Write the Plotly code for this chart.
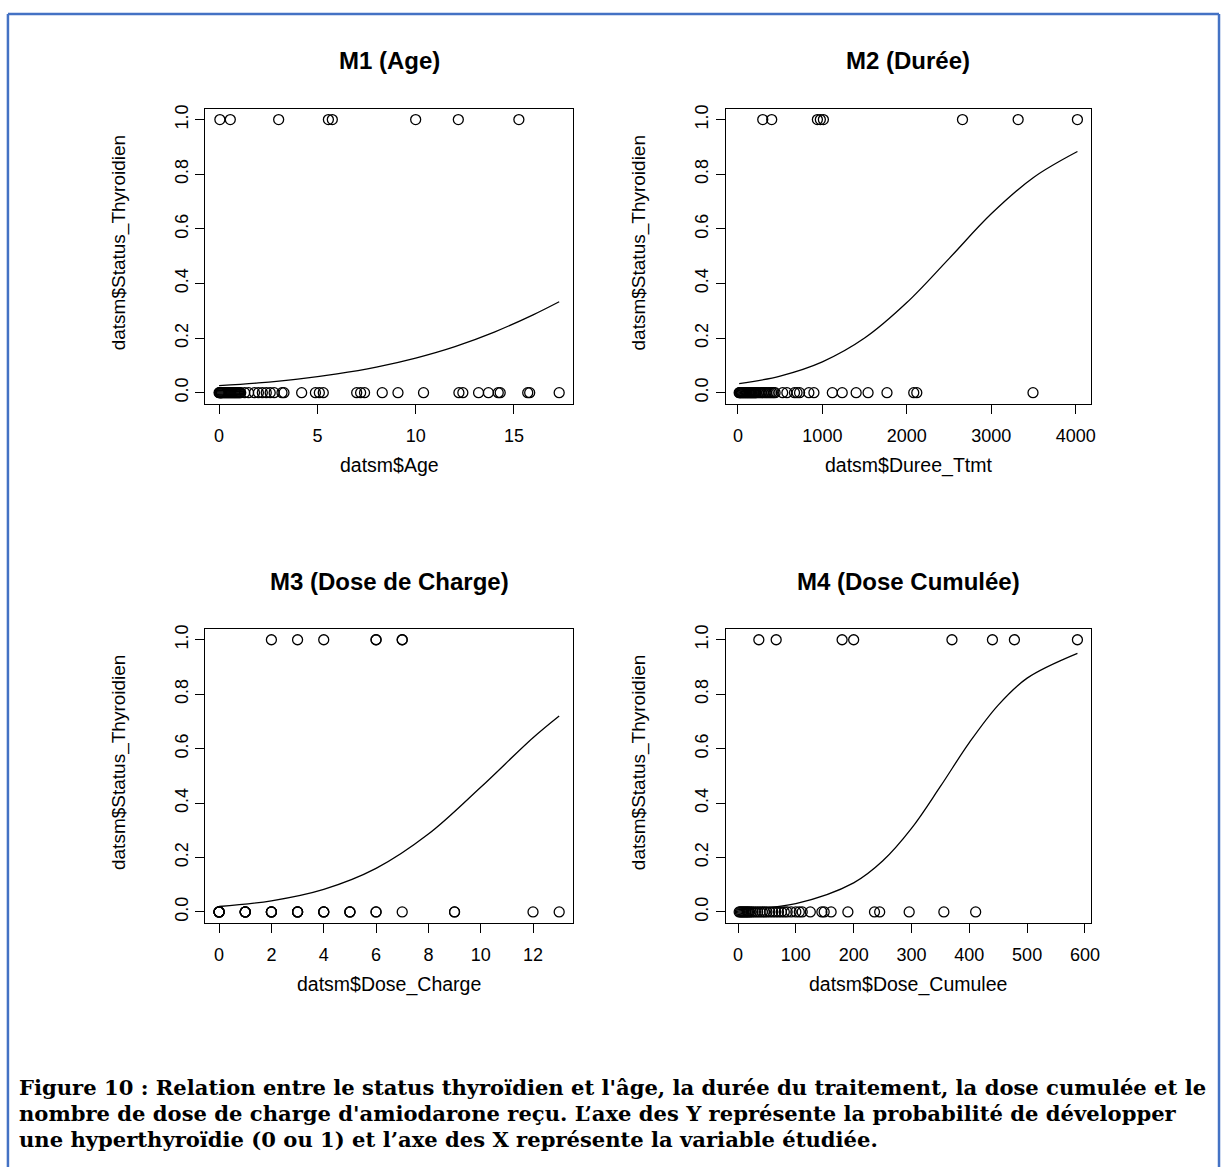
import plotly.graph_objects as go

W, H = 1230, 1167

# ---------------- data ----------------
# M1 : Age
age_status1 = [0.04, 0.57, 3.03, 5.56, 5.76, 10.0, 12.17, 15.25]
age_status0 = [0.0, 0.02, 0.05, 0.08, 0.1, 0.12, 0.15, 0.2, 0.25, 0.3, 0.35, 0.4,
               0.45, 0.5, 0.55, 0.6, 0.65, 0.7, 0.75, 0.8, 0.85, 0.9, 0.95, 1.0,
               1.05, 1.1, 1.3, 1.5, 1.8, 2.0, 2.2, 2.4, 2.6, 2.8, 3.2, 3.3, 4.2,
               4.9, 5.1, 5.3, 7.0, 7.2, 7.4, 8.3, 9.1, 10.4, 12.2, 12.4, 13.2,
               13.7, 14.2, 14.3, 15.7, 15.8, 17.3]
age_fit_x = [0, 2, 4, 6, 8, 10, 12, 14, 16, 17.3]
age_fit_p = [0.026, 0.036, 0.050, 0.069, 0.094, 0.127, 0.169, 0.222, 0.286, 0.333]

# M2 : Durée
dur_status1 = [294, 400, 941, 976, 1012, 2659, 3318, 4020]
dur_status0 = [15, 20, 30, 40, 50, 60, 70, 80, 90, 100, 110, 120, 130, 140, 150,
               160, 170, 180, 190, 200, 210, 220, 240, 260, 280, 300, 320, 340,
               360, 380, 400, 420, 440, 530, 580, 670, 700, 730, 840, 900, 1118,
               1235, 1400, 1541, 1765, 2082, 2118, 3494]
dur_fit_x = [15, 500, 1000, 1500, 2000, 2500, 3000, 3500, 4020]
dur_fit_p = [0.033, 0.061, 0.113, 0.200, 0.330, 0.491, 0.655, 0.788, 0.883]

# M3 : Dose de charge
charge_status1 = [2, 3, 4, 6, 6, 7, 7]
charge_status0 = [0, 0, 0, 0, 0, 0, 1, 1, 1, 1, 1, 2, 2, 2, 2, 3, 3, 3, 3, 4, 4, 4,
                  5, 5, 5, 6, 6, 7, 9, 9, 12, 13]
charge_fit_x = [0, 2, 4, 6, 8, 10, 12, 13]
charge_fit_p = [0.020, 0.041, 0.083, 0.160, 0.286, 0.458, 0.640, 0.720]

# M4 : Dose cumulée
cum_status1 = [36, 66, 180, 200, 370, 440, 478, 587]
cum_status0 = [2, 4, 6, 8, 10, 12, 14, 16, 18, 20, 23, 26, 30, 34, 38, 42, 46, 50,
               55, 60, 65, 70, 75, 80, 85, 92, 100, 106, 111, 125, 145, 149, 161,
               190, 236, 245, 296, 356, 411]
cum_fit_x = [2, 100, 200, 250, 300, 350, 400, 450, 500, 587]
cum_fit_p = [0.009, 0.031, 0.107, 0.187, 0.307, 0.461, 0.622, 0.760, 0.859, 0.950]

panel_titles = ["M1 (Age)", "M2 (Durée)", "M3 (Dose de Charge)", "M4 (Dose Cumulée)"]
x_titles = ["datsm$Age", "datsm$Duree_Ttmt", "datsm$Dose_Charge", "datsm$Dose_Cumulee"]
y_title = "datsm$Status_Thyroidien"
x_ticks = [[0, 5, 10, 15],
           [0, 1000, 2000, 3000, 4000],
           [0, 2, 4, 6, 8, 10, 12],
           [0, 100, 200, 300, 400, 500, 600]]
y_ticks = [0.0, 0.2, 0.4, 0.6, 0.8, 1.0]
y_tick_labels = ["0.0", "0.2", "0.4", "0.6", "0.8", "1.0"]

caption_lines = [
    "Figure 10 : Relation entre le status thyroïdien et l'âge, la durée du traitement, la dose cumulée et le",
    "nombre de dose de charge d'amiodarone reçu. L’axe des Y représente la probabilité de développer",
    "une hyperthyroïdie (0 ou 1) et l’axe des X représente la variable étudiée.",
]

panels = [
    (age_status0, age_status1, age_fit_x, age_fit_p),
    (dur_status0, dur_status1, dur_fit_x, dur_fit_p),
    (charge_status0, charge_status1, charge_fit_x, charge_fit_p),
    (cum_status0, cum_status1, cum_fit_x, cum_fit_p),
]

# ---------------- layout geometry (pixels) ----------------
col_px = [(207, 577), (731, 1099)]
row_px = [(105, 401), (627, 922)]   # top, bottom in screen pixels

def px_x(v):
    return v / W

def px_y(v):
    return 1 - v / H

fig = go.Figure()
font_main = "Liberation Sans, Arial, Helvetica, sans-serif"

for i, (s0, s1, fx, fp) in enumerate(panels):
    r, c = divmod(i, 2)
    n = i + 1
    xa = "x" if n == 1 else f"x{n}"
    ya = "y" if n == 1 else f"y{n}"
    allx = list(s0) + list(s1)
    lo, hi = min(allx), max(allx)
    pad = 0.04 * (hi - lo)
    ally = [0, 1]
    ylo, yhi = min(ally), max(ally)
    ypad = 0.04 * (yhi - ylo)

    fig.add_trace(go.Scatter(
        x=list(s0) + list(s1), y=[0] * len(s0) + [1] * len(s1),
        mode="markers", xaxis=xa, yaxis=ya, showlegend=False,
        marker=dict(symbol="circle-open", size=10, color="black",
                    line=dict(width=1.3, color="black")),
        hoverinfo="x+y"))
    fig.add_trace(go.Scatter(
        x=fx, y=fp, mode="lines", xaxis=xa, yaxis=ya, showlegend=False,
        line=dict(color="black", width=1.3, shape="spline", smoothing=1.0)))

    x0, x1 = col_px[c]
    yt, yb = row_px[r]
    axis_common = dict(showline=True, mirror=True, linecolor="black", linewidth=1,
                       ticks="outside", ticklen=9, tickwidth=1, tickcolor="black",
                       showgrid=False, zeroline=False,
                       tickfont=dict(family=font_main, size=18, color="black"))
    xkey = "xaxis" if n == 1 else f"xaxis{n}"
    ykey = "yaxis" if n == 1 else f"yaxis{n}"
    fig.update_layout({
        xkey: dict(domain=[px_x(x0), px_x(x1)], anchor=ya,
                   range=[lo - pad, hi + pad], tickvals=x_ticks[i],
                   ticklabelstandoff=7, **axis_common),
        ykey: dict(domain=[px_y(yb), px_y(yt)], anchor=xa,
                   range=[ylo - ypad, yhi + ypad], tickvals=y_ticks,
                   ticktext=y_tick_labels, tickangle=-90,
                   ticklabelstandoff=0, **axis_common),
    })

    cx = (x0 + x1) / 2
    cy = (yt + yb) / 2
    # panel title
    fig.add_annotation(x=px_x(cx), y=px_y(yt - 48), xref="paper", yref="paper",
                       text=f"<b>{panel_titles[i]}</b>", showarrow=False,
                       font=dict(family=font_main, size=24, color="black"),
                       xanchor="center", yanchor="middle")
    # x title
    fig.add_annotation(x=px_x(cx), y=px_y(yb + 62), xref="paper", yref="paper",
                       text=x_titles[i], showarrow=False,
                       font=dict(family=font_main, size=19.5, color="black"),
                       xanchor="center", yanchor="middle")
    # y title
    fig.add_annotation(x=px_x(x0 - 87), y=px_y(cy - 13), xref="paper", yref="paper",
                       text=y_title, showarrow=False, textangle=-90,
                       font=dict(family=font_main, size=19, color="black"),
                       xanchor="center", yanchor="middle")

# caption
for k, line in enumerate(caption_lines):
    fig.add_annotation(x=px_x(17), y=px_y(1087 + 26 * k), xref="paper", yref="paper",
                       text=f"<b>{line}</b>", showarrow=False,
                       font=dict(family="DejaVu Serif, serif", size=21.1,
                                 color="black"),
                       xanchor="left", yanchor="middle", align="left")

# blue frame
frame_col = "#4472C4"
fig.add_shape(type="line", xref="paper", yref="paper", x0=px_x(8), x1=px_x(8),
              y0=px_y(10), y1=px_y(1167), line=dict(color=frame_col, width=2.5))
fig.add_shape(type="line", xref="paper", yref="paper", x0=px_x(8), x1=px_x(1228),
              y0=px_y(10), y1=px_y(10), line=dict(color=frame_col, width=2.5))
fig.add_shape(type="line", xref="paper", yref="paper", x0=px_x(1228), x1=px_x(1228),
              y0=px_y(10), y1=px_y(1167), line=dict(color=frame_col, width=2.5))

fig.update_layout(width=W, height=H, margin=dict(l=0, r=0, t=0, b=0),
                  paper_bgcolor="white", plot_bgcolor="white", showlegend=False)

fig.write_html("out.html")
